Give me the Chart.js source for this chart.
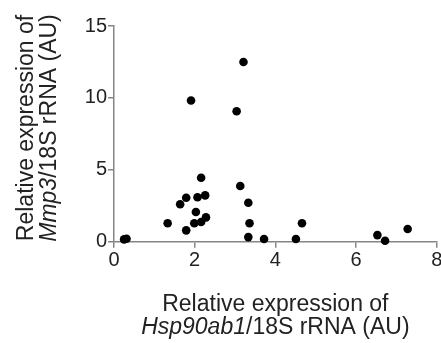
<!DOCTYPE html>
<html>
<head>
<meta charset="utf-8">
<script src="https://cdn.jsdelivr.net/npm/chart.js@4.4.0/dist/chart.umd.min.js"></script>
<style>
  html, body { margin: 0; padding: 0; background: #fff; }
</style>
</head>
<body>
<canvas id="scatter" width="441" height="343"></canvas>
<script>
// Hsp90ab1 (x) vs Mmp3 (y), both relative to 18S rRNA
const hsp90ab1 = [0.25, 0.31, 1.33, 1.64, 1.79, 1.79, 1.91, 1.99, 2.03, 2.07, 2.16, 2.16, 2.26,
  2.28, 3.04, 3.21, 3.13, 3.33, 3.36, 3.33, 3.72, 4.51, 4.66, 6.53, 6.72, 7.28];
const mmp3 = [0.16, 0.21, 1.28, 2.6, 3.06, 0.79, 9.82, 1.28, 2.07, 3.09, 4.45, 1.37, 3.22,
  1.69, 9.07, 12.5, 3.87, 2.71, 1.28, 0.32, 0.19, 0.19, 1.28, 0.46, 0.07, 0.88];
const xTicks = [0, 2, 4, 6, 8];
const yTicks = [0, 5, 10, 15];

const xTitle = [
  [{ text: "Relative expression of" }],
  [{ text: "Hsp90ab1", italic: true }, { text: "/18S rRNA (AU)" }]
];
const yTitle = [
  [{ text: "Relative expression of" }],
  [{ text: "Mmp3", italic: true }, { text: "/18S rRNA (AU)" }]
];

const FONT = "'Liberation Sans', Arial, sans-serif";
const axisGray = "#858585";

function partFont(p) {
  return (p.italic ? "italic " : "") + "23px " + FONT;
}

function drawLine(ctx, parts, x, y) {
  let total = 0;
  parts.forEach(p => { ctx.font = partFont(p); total += ctx.measureText(p.text).width; });
  let cx = x - total / 2;
  parts.forEach(p => {
    ctx.font = partFont(p);
    ctx.fillText(p.text, cx, y);
    cx += ctx.measureText(p.text).width;
  });
}

// axis titles with the gene names in italics
const titlesPlugin = {
  id: "titles",
  afterDraw(chart) {
    const ctx = chart.ctx;
    const area = chart.chartArea;
    ctx.save();
    ctx.fillStyle = "#222";
    ctx.textAlign = "left";
    ctx.textBaseline = "alphabetic";
    const midX = (area.left + area.right) / 2;
    drawLine(ctx, xTitle[0], midX, area.bottom + 69.5);
    drawLine(ctx, xTitle[1], midX, area.bottom + 92.5);
    [32.5, 55.5].forEach((bx, i) => {
      ctx.save();
      ctx.translate(bx, 128);
      ctx.rotate(-Math.PI / 2);
      drawLine(ctx, yTitle[i], 0, 0);
      ctx.restore();
    });
    ctx.restore();
  }
};

const points = hsp90ab1.map((x, i) => ({ x: x, y: mmp3[i] }));

new Chart(document.getElementById("scatter"), {
  type: "scatter",
  data: {
    datasets: [{
      data: points,
      backgroundColor: "#000",
      borderWidth: 0,
      pointRadius: 4.3,
      pointHoverRadius: 4.3,
      clip: false
    }]
  },
  options: {
    responsive: false,
    animation: false,
    devicePixelRatio: 1,
    layout: { padding: { top: 26, right: 4.3, left: 0, bottom: 0 } },
    plugins: { legend: { display: false }, tooltip: { enabled: false } },
    scales: {
      x: {
        type: "linear",
        min: 0,
        max: 8,
        border: { color: axisGray, width: 1.5 },
        grid: { drawOnChartArea: false, drawTicks: true, tickLength: 6, color: axisGray, lineWidth: 1.5 },
        ticks: { font: { family: FONT, size: 20 }, color: "#222", padding: 1, maxRotation: 0 },
        afterBuildTicks: s => { s.ticks = xTicks.map(v => ({ value: v })); },
        afterFit: s => { s.height = 101.3; s.paddingLeft = 0; s.paddingRight = 0; }
      },
      y: {
        type: "linear",
        min: 0,
        max: 15,
        border: { color: axisGray, width: 1.5 },
        grid: { drawOnChartArea: false, drawTicks: true, tickLength: 6, color: axisGray, lineWidth: 1.5 },
        ticks: { font: { family: FONT, size: 20 }, color: "#222", padding: 1 },
        afterBuildTicks: s => { s.ticks = yTicks.map(v => ({ value: v })); },
        afterFit: s => { s.width = 114; s.paddingTop = 0; s.paddingBottom = 0; }
      }
    }
  },
  plugins: [titlesPlugin]
});
</script>
</body>
</html>
